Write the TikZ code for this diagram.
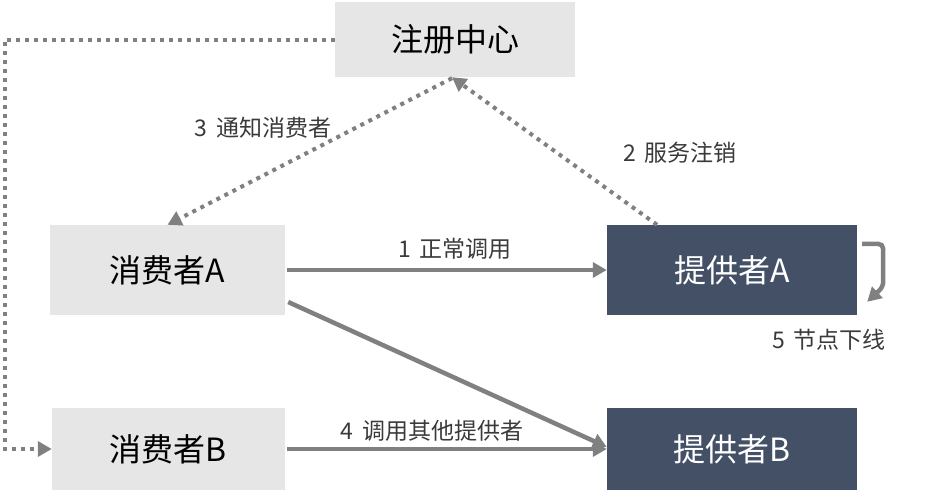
\documentclass[tikz,border=0pt]{standalone}
\usepackage{fontspec}
\setmainfont{Noto Sans CJK SC}
\usetikzlibrary{arrows.meta,calc}
\definecolor{boxgray}{HTML}{E6E6E6}
\definecolor{boxdark}{HTML}{435066}
\definecolor{linegray}{HTML}{808080}
\definecolor{labelgray}{HTML}{3A3A3A}
\newcommand{\gap}{\hspace{0.4em}}
\begin{document}
\begin{tikzpicture}[x=1pt,y=-1pt,
  lightbox/.style={fill=boxgray,draw=none,inner sep=0pt,font=\fontsize{32}{38}\selectfont,text=black},
  darkbox/.style={fill=boxdark,draw=none,inner sep=0pt,font=\fontsize{32}{38}\selectfont,text=white},
  lbl/.style={font=\fontsize{23}{27}\selectfont,text=labelgray,inner sep=0pt},
  solidarrow/.style={draw=linegray,line width=4.5pt,-{Triangle[length=14pt,width=15pt]}},
  dotarrow/.style={draw=linegray,line width=4pt,dash pattern=on 4pt off 5pt,-{Triangle[length=14pt,width=15pt]}}
]
\useasboundingbox (0,0) rectangle (940,490);
\node[lightbox,minimum width=240pt,minimum height=75pt] (reg) at (455,39.5) {注册中心};
\node[lightbox,minimum width=235pt,minimum height=90pt] (cA) at (167.5,270) {消费者A};
\node[darkbox,minimum width=250pt,minimum height=90pt] (pA) at (732,270) {提供者A};
\node[lightbox,minimum width=233pt,minimum height=82pt] (cB) at (168.5,449) {消费者B};
\node[darkbox,minimum width=250pt,minimum height=82pt] (pB) at (732,449) {提供者B};

\coordinate (tl) at (4.5,39.5);
\coordinate (bl) at (4.5,449);
\draw[dotarrow] (reg.west) -- (tl) -- (bl) -- (cB.west);

\draw[dotarrow] ($(reg.south)+(-3,1)$) -- (cA.north);
\draw[dotarrow] ($(pA.north)+(-75,0)$) -- ($(reg.south)+(-3,0)$);

\draw[solidarrow] ($(cA.east)+(2,0)$) -- (pA.west);
\draw[solidarrow] ($(cB.east)+(2,0)$) -- (pB.west);
\draw[solidarrow] ($(cA.east)+(3,32)$) -- ($(pB.west)+(0,-2)$);

\coordinate (s1) at ($(pA.north east)+(5,19)$);
\coordinate (s2) at ($(pA.north east)+(26,19)$);
\coordinate (s3) at ($(pA.north east)+(26,62)$);
\coordinate (s4) at ($(pA.north east)+(10,77)$);
\draw[solidarrow,rounded corners=5pt] (s1) -- (s2) -- (s3) -- (s4);

\node[lbl] (l1) at (455,249) {1\gap 正常调用};
\node[lbl] (l2) at (680,153) {2\gap 服务注销};
\node[lbl] (l3) at (263,128) {3\gap 通知消费者};
\node[lbl] (l4) at (432,431) {4\gap 调用其他提供者};
\node[lbl] (l5) at (829,340) {5\gap 节点下线};
\end{tikzpicture}
\end{document}
